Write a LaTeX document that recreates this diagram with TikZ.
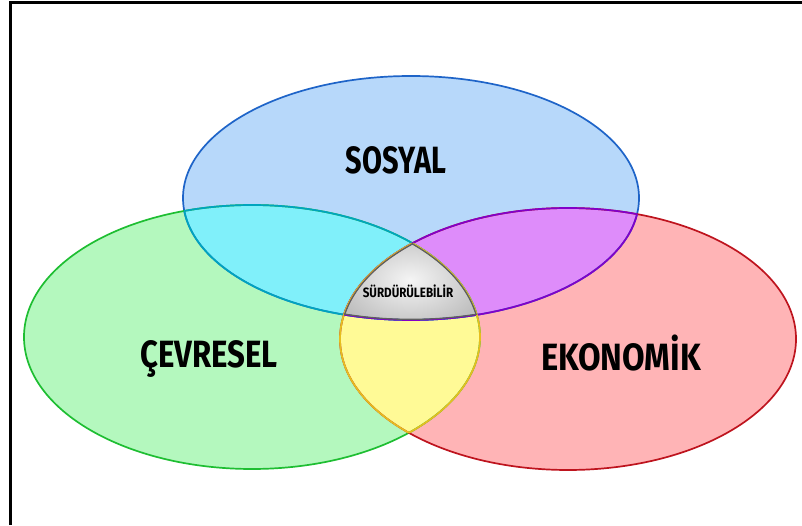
\documentclass[tikz,border=0pt]{standalone}
\usepackage{fontspec}
\usepackage{tikz}

\newfontfamily\lblfont[FakeStretch=0.82]{Fira Sans}

\definecolor{sosfill}{RGB}{183,216,250}
\definecolor{sosline}{RGB}{30,100,200}
\definecolor{cevfill}{RGB}{180,248,190}
\definecolor{cevline}{RGB}{30,190,50}
\definecolor{ekofill}{RGB}{255,180,182}
\definecolor{ekoline}{RGB}{190,20,30}
\definecolor{scfill}{RGB}{128,240,250}
\definecolor{scline}{RGB}{0,165,190}
\definecolor{sefill}{RGB}{222,140,250}
\definecolor{seline}{RGB}{130,0,200}
\definecolor{cefill}{RGB}{255,250,150}
\definecolor{celine}{RGB}{230,190,30}
\definecolor{midline}{RGB}{95,95,95}

\newcommand\SosEll{(S) ellipse [x radius=228pt, y radius=122pt]}
\newcommand\CevEll{(C) ellipse [x radius=228pt, y radius=132pt]}
\newcommand\EkoEll{(E) ellipse [x radius=228pt, y radius=131pt]}

\tikzset{
	rim/.style={line width=1.7pt},
	biglabel/.style={anchor=base, font=\lblfont\bfseries\fontsize{38}{38}\selectfont},
}

\begin{document}
\begin{tikzpicture}[x=1pt,y=1pt]

\useasboundingbox (0,0) rectangle (802,525);

% coordinates %{{{2

	\coordinate (S) at (411,327);
	\coordinate (C) at (252,188);
	\coordinate (E) at (568,186);

% fills %{{{2

	\fill[sosfill] \SosEll;
	\fill[cevfill] \CevEll;
	\fill[ekofill] \EkoEll;

	% pairwise overlaps
	\begin{scope}
		\clip \SosEll;
		\fill[scfill] \CevEll;
		\fill[sefill] \EkoEll;
	\end{scope}
	\begin{scope}
		\clip \CevEll;
		\fill[cefill] \EkoEll;
	\end{scope}

	% common part
	\begin{scope}
		\clip \SosEll;
		\clip \CevEll;
		\clip \EkoEll;
		\shade[inner color=gray!8, outer color=gray!50] (335,195) rectangle (485,295);
	\end{scope}

% outlines %{{{2

	\draw[rim, sosline] \SosEll;
	\draw[rim, cevline] \CevEll;
	\draw[rim, ekoline] \EkoEll;

	\begin{scope}
		\clip \SosEll;
		\draw[rim, scline] \CevEll;
		\draw[rim, seline] \EkoEll;
	\end{scope}
	\begin{scope}
		\clip \CevEll;
		\draw[rim, scline] \SosEll;
		\draw[rim, celine] \EkoEll;
	\end{scope}
	\begin{scope}
		\clip \EkoEll;
		\draw[rim, seline] \SosEll;
		\draw[rim, celine] \CevEll;
	\end{scope}
	\begin{scope}
		\clip \SosEll;
		\clip \CevEll;
		\clip \EkoEll;
		\draw[line width=2.6pt, midline] \SosEll;
		\draw[line width=2.6pt, midline] \CevEll;
		\draw[line width=2.6pt, midline] \EkoEll;
	\end{scope}

% labels %{{{2

	\node[biglabel, xscale=0.93] (sosyal) at (396,351) {SOSYAL};
	\node[biglabel] (cevresel) at (209,158) {ÇEVRESEL};
	\node[biglabel, xscale=1.05] (ekonomik) at (621,155) {EKONOMİK};

	\node[anchor=base, font=\lblfont\bfseries\fontsize{13.5}{13.5}\selectfont, xscale=1.05]
		(surdur) at (408,227) {SÜRDÜRÜLEBİLİR};

% frame %{{{2

	\draw[line width=3pt] (10,0) -- (10,522) -- (802,522);

% closing %{{{2

\end{tikzpicture}
\end{document}
